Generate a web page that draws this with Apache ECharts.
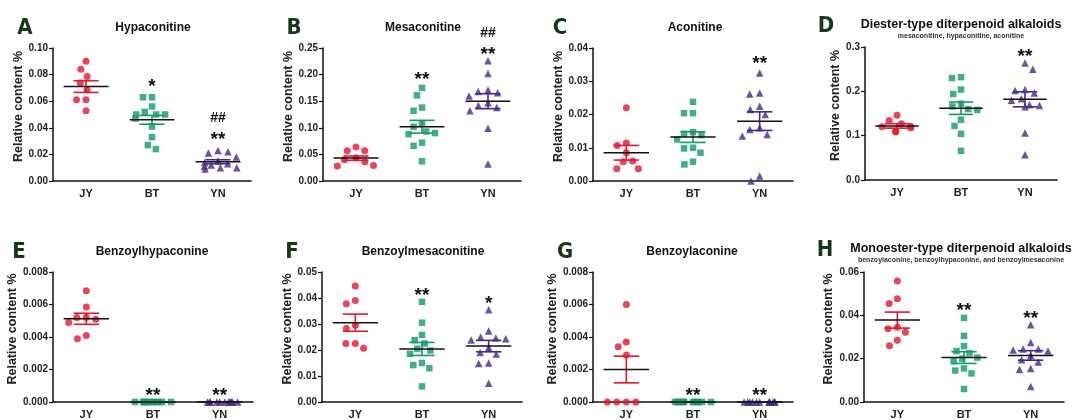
<!DOCTYPE html>
<html>
<head>
<meta charset="utf-8">
<script src="https://cdn.jsdelivr.net/npm/echarts@6/dist/echarts.min.js"></script>
<style>
  html, body { margin: 0; background: #fff; }
  #chart { width: 1076px; height: 420px; }
</style>
</head>
<body>
<div id="chart"></div>
<script>
const groups = ['JY', 'BT', 'YN'];

// A Hypaconitine
const hypJY = [0.090, 0.084, 0.0786, 0.0736, 0.0686, 0.061, 0.061, 0.0528];
const hypBT = [0.063, 0.063, 0.056, 0.052, 0.050, 0.050, 0.050, 0.047, 0.041, 0.033, 0.027, 0.024];
const hypYN = [0.023, 0.021, 0.022, 0.018, 0.015, 0.014, 0.013, 0.012, 0.011, 0.010, 0.010, 0.009];
const hypMean = [0.071, 0.046, 0.0145];
const hypSem = [0.0044, 0.0033, 0.0015];
const hypMarks = [[1, 0.075, '*'], [2, 0.035, '**'], [2, 0.047, '##']];

// B Mesaconitine
const mesJY = [0.064, 0.057, 0.057, 0.043, 0.040, 0.036, 0.029, 0.028];
const mesBT = [0.175, 0.161, 0.138, 0.132, 0.108, 0.102, 0.093, 0.090, 0.088, 0.072, 0.066, 0.037];
const mesYN = [0.226, 0.202, 0.171, 0.168, 0.166, 0.160, 0.147, 0.142, 0.138, 0.132, 0.099, 0.032];
const mesMean = [0.043, 0.102, 0.150];
const mesSem = [0.004, 0.012, 0.014];
const mesMarks = [[1, 0.20, '**'], [2, 0.247, '**'], [2, 0.278, '##']];

// C Aconitine
const acoJY = [0.022, 0.0114, 0.0107, 0.0085, 0.0058, 0.006, 0.0037, 0.0037];
const acoBT = [0.0238, 0.0204, 0.0204, 0.0147, 0.0142, 0.0138, 0.0125, 0.0100, 0.0098, 0.0085, 0.0058, 0.0050];
const acoYN = [0.0325, 0.0265, 0.0262, 0.0225, 0.0215, 0.0200, 0.0160, 0.0155, 0.0140, 0.0135, 0.0015, 0.0000];
const acoMean = [0.0085, 0.0132, 0.0180];
const acoSem = [0.0022, 0.0016, 0.0028];
const acoMarks = [[2, 0.037, '**']];

// D Diester-type
const dieJY = [0.146, 0.134, 0.127, 0.121, 0.120, 0.118, 0.110, 0.108];
const dieBT = [0.232, 0.230, 0.204, 0.194, 0.172, 0.166, 0.160, 0.158, 0.136, 0.122, 0.104, 0.066];
const dieYN = [0.264, 0.250, 0.204, 0.202, 0.196, 0.183, 0.180, 0.170, 0.168, 0.165, 0.106, 0.057];
const dieMean = [0.122, 0.162, 0.182];
const dieSem = [0.005, 0.014, 0.017];
const dieMarks = [[2, 0.291, '**']];

// E Benzoylhypaconine
const bhyJY = [0.00685, 0.00585, 0.0052, 0.0052, 0.0051, 0.0049, 0.0041, 0.0039];
const bhyBT = [0, 0, 0, 0, 0, 0, 0, 0, 0, 0, 0, 0];
const bhyYN = [0, 0, 0, 0, 0, 0, 0, 0, 0, 0, 0, 0];
const bhyMean = [0.00512, 0, 0];
const bhySem = [0.00034, 0, 0];
const bhyMarks = [[1, 0.0007, '**'], [2, 0.0007, '**']];

// F Benzoylmesaconitine
const bmeJY = [0.0446, 0.0390, 0.0378, 0.0295, 0.0283, 0.0225, 0.0225, 0.0207];
const bmeBT = [0.0385, 0.0305, 0.0258, 0.0238, 0.0225, 0.0205, 0.0198, 0.0185, 0.0150, 0.0142, 0.0130, 0.0060];
const bmeYN = [0.0355, 0.0273, 0.0250, 0.0246, 0.0243, 0.0238, 0.0210, 0.0190, 0.0185, 0.0150, 0.0148, 0.0072];
const bmeMean = [0.0305, 0.0204, 0.0215];
const bmeSem = [0.0033, 0.0025, 0.0022];
const bmeMarks = [[1, 0.043, '**'], [2, 0.040, '*']];

// G Benzoylaconine
const bacJY = [0.0060, 0.0037, 0.0034, 0.0029, 0, 0, 0, 0];
const bacBT = [0, 0, 0, 0, 0, 0, 0, 0, 0, 0, 0, 0];
const bacYN = [0, 0, 0, 0, 0, 0, 0, 0, 0, 0, 0, 0];
const bacMean = [0.0020, 0, 0];
const bacSem = [0.00082, 0, 0];
const bacMarks = [[1, 0.0007, '**'], [2, 0.0007, '**']];

// H Monoester-type
const monJY = [0.0558, 0.0477, 0.0455, 0.0345, 0.0338, 0.0322, 0.0285, 0.0260];
const monBT = [0.0388, 0.0305, 0.0258, 0.0235, 0.0225, 0.0205, 0.0200, 0.0188, 0.0155, 0.0145, 0.0132, 0.0060];
const monYN = [0.0357, 0.0275, 0.0245, 0.0245, 0.0240, 0.0235, 0.0215, 0.0195, 0.0185, 0.0155, 0.0150, 0.0072];
const monMean = [0.0378, 0.0205, 0.0215];
const monSem = [0.0037, 0.0027, 0.0022];
const monMarks = [[1, 0.0447, '**'], [2, 0.0408, '**']];

const colors = ['#e3162e', '#14996a', '#45288c'];
const symbols = ['circle', 'rect', 'triangle'];
const sizes = [7, 6.5, 7.5];
const FONT = '"Liberation Sans", Arial, sans-serif';

const panels = [
  { letter: 'A', title: 'Hypaconitine', vals: [hypJY, hypBT, hypYN], mean: hypMean, sem: hypSem, marks: hypMarks,
    max: 0.10, step: 0.02, dec: 2, left: 53, top: 48, width: 198, height: 133, nameGap: 25, lx: 25, tx: 153, ty: 28 },
  { letter: 'B', title: 'Mesaconitine', vals: [mesJY, mesBT, mesYN], mean: mesMean, sem: mesSem, marks: mesMarks,
    max: 0.25, step: 0.05, dec: 2, left: 323, top: 48, width: 198, height: 133, nameGap: 26, lx: 294, tx: 423, ty: 28 },
  { letter: 'C', title: 'Aconitine', vals: [acoJY, acoBT, acoYN], mean: acoMean, sem: acoSem, marks: acoMarks,
    max: 0.04, step: 0.01, dec: 2, left: 593, top: 48, width: 200, height: 133, nameGap: 25, lx: 560, tx: 695, ty: 28 },
  { letter: 'D', title: 'Diester-type diterpenoid alkaloids', sub: 'mesaconitine, hypaconitine, aconitine',
    vals: [dieJY, dieBT, dieYN], mean: dieMean, sem: dieSem, marks: dieMarks,
    max: 0.3, step: 0.1, dec: 1, left: 865, top: 47, width: 192, height: 133, nameGap: 21, lx: 826, tx: 961, ty: 25 },
  { letter: 'E', title: 'Benzoylhypaconine', vals: [bhyJY, bhyBT, bhyYN], mean: bhyMean, sem: bhySem, marks: bhyMarks,
    max: 0.008, step: 0.002, dec: 3, left: 53, top: 272, width: 200, height: 132, nameGap: 32, lx: 19, tx: 152, ty: 252 },
  { letter: 'F', title: 'Benzoylmesaconitine', vals: [bmeJY, bmeBT, bmeYN], mean: bmeMean, sem: bmeSem, marks: bmeMarks,
    max: 0.05, step: 0.01, dec: 2, left: 322, top: 272, width: 200, height: 133, nameGap: 26, lx: 292, tx: 423, ty: 252 },
  { letter: 'G', title: 'Benzoylaconine', vals: [bacJY, bacBT, bacYN], mean: bacMean, sem: bacSem, marks: bacMarks,
    max: 0.008, step: 0.002, dec: 3, left: 593, top: 272, width: 200, height: 132, nameGap: 32, lx: 565, tx: 692, ty: 252 },
  { letter: 'H', title: 'Monoester-type diterpenoid alkaloids', sub: 'benzoylaconine, benzoylhypaconine, and benzoylmesaconine',
    vals: [monJY, monBT, monYN], mean: monMean, sem: monSem, marks: monMarks,
    max: 0.06, step: 0.02, dec: 2, left: 864, top: 272, width: 200, height: 133, nameGap: 29, lx: 825, tx: 961, ty: 249 }
];

const grid = [], xAxis = [], yAxis = [], series = [], graphic = [];

// mean line (black) with coloured SEM whiskers
function meanSem(params, api) {
  const g = api.value(0), m = api.value(1), s = api.value(2);
  const c = api.coord([g, m]);
  const bw = api.size([1, 0])[0];
  const children = [];
  if (s > 0) {
    const t = api.coord([g, m + s]), b = api.coord([g, m - s]);
    const hw = bw * 0.19;
    const st = { stroke: colors[g], lineWidth: 1.6 };
    children.push({ type: 'line', shape: { x1: c[0], y1: t[1], x2: c[0], y2: b[1] }, style: st });
    children.push({ type: 'line', shape: { x1: c[0] - hw, y1: t[1], x2: c[0] + hw, y2: t[1] }, style: st });
    children.push({ type: 'line', shape: { x1: c[0] - hw, y1: b[1], x2: c[0] + hw, y2: b[1] }, style: st });
  }
  children.push({ type: 'line', shape: { x1: c[0] - bw * 0.34, y1: c[1], x2: c[0] + bw * 0.34, y2: c[1] },
    style: { stroke: '#111', lineWidth: 1.5 } });
  return { type: 'group', children: children };
}

panels.forEach(function (p, i) {
  grid.push({ left: p.left, top: p.top, width: p.width, height: p.height });
  xAxis.push({
    gridIndex: i, type: 'category', data: groups,
    jitter: 38, jitterOverlap: false, jitterMargin: 2.5,
    axisLine: { lineStyle: { color: '#111', width: 1.5 } },
    axisTick: { show: false },
    axisLabel: { color: '#222', fontWeight: 'bold', fontSize: 11, margin: 7, fontFamily: FONT }
  });
  yAxis.push({
    gridIndex: i, type: 'value', min: 0, max: p.max, interval: p.step,
    name: 'Relative content %', nameLocation: 'middle', nameGap: p.nameGap, nameRotate: 90,
    nameTextStyle: { color: '#222', fontWeight: 'bold', fontSize: 12.5, fontFamily: FONT, padding: [0, 0, 0, 16] },
    axisLine: { show: true, lineStyle: { color: '#111', width: 1.5 } },
    axisTick: { show: true, length: 4, lineStyle: { color: '#111', width: 1.2 } },
    splitLine: { show: false },
    axisLabel: { color: '#222', fontWeight: 'bold', fontSize: 10, margin: 5, fontFamily: FONT,
      formatter: function (v) { return v.toFixed(p.dec); } }
  });
  p.vals.forEach(function (vals, g) {
    series.push({
      type: 'scatter', xAxisIndex: i, yAxisIndex: i, z: 2,
      symbol: symbols[g], symbolSize: sizes[g], itemStyle: { color: colors[g] },
      data: vals.map(function (v) { return [g, v]; })
    });
  });
  series.push({
    type: 'custom', xAxisIndex: i, yAxisIndex: i, z: 4, clip: false,
    encode: { x: 0, y: 1 },
    data: p.mean.map(function (m, g) { return [g, m, p.sem[g]]; }),
    renderItem: meanSem
  });
  series.push({
    type: 'custom', xAxisIndex: i, yAxisIndex: i, z: 5, clip: false,
    encode: { x: 0, y: 1 },
    data: p.marks.map(function (mk) { return [mk[0], mk[1]]; }),
    renderItem: function (params, api) {
      const c = api.coord([api.value(0), api.value(1)]);
      const txt = p.marks[params.dataIndex][2];
      const star = txt.indexOf('*') >= 0;
      const fs = star ? 19 : 14;
      return { type: 'text', x: c[0], y: c[1] + (star ? fs * 0.28 : 0),
        style: { text: txt, fill: '#111', fontSize: fs, fontWeight: 'bold', fontFamily: FONT,
          align: 'center', verticalAlign: 'middle' } };
    }
  });
  graphic.push({ type: 'text', x: p.lx, y: p.sub ? p.ty + 1 : p.ty,
    style: { text: p.letter, fill: '#17361c', fontSize: 22, fontWeight: 'bold',
      fontFamily: '"Liberation Sans Narrow", "DejaVu Sans Condensed", sans-serif', align: 'center', verticalAlign: 'middle' } });
  graphic.push({ type: 'text', x: p.tx, y: p.ty,
    style: { text: p.title, fill: '#111', fontSize: p.sub ? 12.5 : 12, fontWeight: 'bold', fontFamily: FONT,
      align: 'center', verticalAlign: 'middle' } });
  if (p.sub) {
    graphic.push({ type: 'text', x: p.tx, y: p.ty + 11,
      style: { text: p.sub, fill: '#333', fontSize: 7, fontWeight: 'bold', fontFamily: FONT,
        align: 'center', verticalAlign: 'middle' } });
  }
});

const chart = echarts.init(document.getElementById('chart'));
chart.setOption({
  backgroundColor: '#fff',
  animation: false,
  grid: grid,
  xAxis: xAxis,
  yAxis: yAxis,
  series: series,
  graphic: graphic
});
</script>
</body>
</html>
